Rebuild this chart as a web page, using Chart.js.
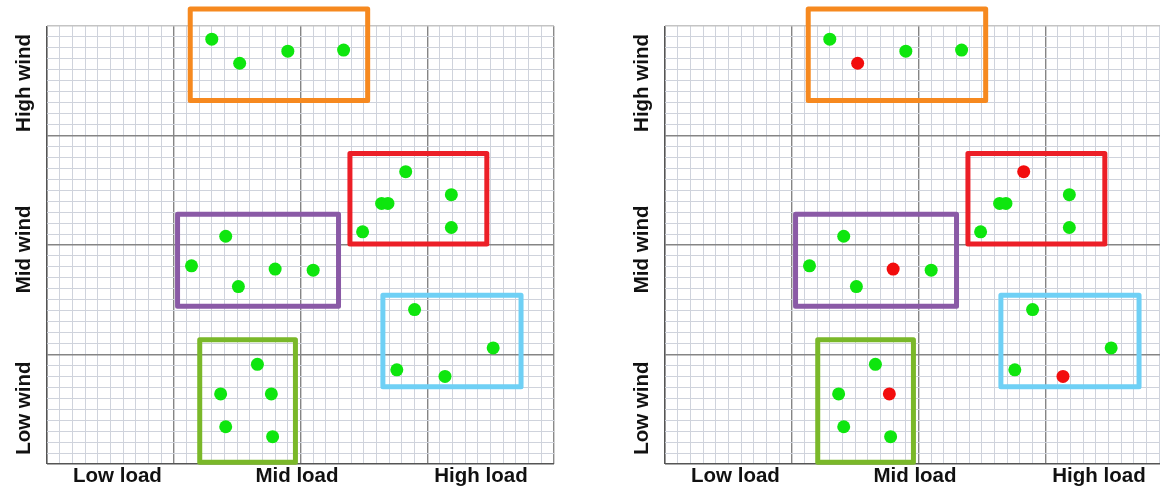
<!DOCTYPE html>
<html>
<head>
<meta charset="utf-8">
<script src="https://cdn.jsdelivr.net/npm/chart.js@4.4.1/dist/chart.umd.min.js"></script>
<style>
  html, body { margin: 0; padding: 0; background: #ffffff; overflow: hidden; width: 1160px; height: 491px; }
  .panel { position: absolute; top: 0; width: 580px; height: 491px; }
  #wrapL { left: 0; }
  #wrapR { left: 618px; }
</style>
</head>
<body>
<div class="panel" id="wrapL"><canvas id="chartL" width="580" height="491"></canvas></div>
<div class="panel" id="wrapR"><canvas id="chartR" width="580" height="491"></canvas></div>
<script>
// ---- Axis labels (category positions in data units, grid is 0..40 both ways) ----
const loadLabels = ['Low load', 'Mid load', 'High load'];
const loadPos = [5.56, 19.72, 34.24];
const windLabels = ['High wind', 'Mid wind', 'Low wind'];
const windPos = [34.8, 19.6, 5.1];

// ---- Operating points per cluster (x = load, y = wind) ----
const orangeX = [13.0, 15.2, 19.0, 23.4];
const orangeY = [38.8, 36.6, 37.7, 37.8];
const redX = [28.3, 26.4, 26.9, 31.9, 31.9, 24.9];
const redY = [26.7, 23.8, 23.8, 24.6, 21.6, 21.2];
const purpleX = [14.1, 11.4, 15.1, 18.0, 21.0];
const purpleY = [20.8, 18.1, 16.2, 17.8, 17.7];
const greenX = [16.6, 13.7, 17.7, 14.1, 17.8];
const greenY = [9.1, 6.4, 6.4, 3.4, 2.5];
const cyanX = [29.0, 27.6, 31.4, 35.2];
const cyanY = [14.1, 8.6, 8.0, 10.6];

// ---- Points flagged (red) in the right-hand panel ----
const orangeFlag = [0, 1, 0, 0];
const redFlag = [1, 0, 0, 0, 0, 0];
const purpleFlag = [0, 0, 0, 1, 0];
const greenFlag = [0, 0, 1, 0, 0];
const cyanFlag = [0, 0, 1, 0];

// ---- Cluster boxes (data units) : orange, red, purple, green, cyan ----
const boxLeft   = [11.3, 23.9, 10.3, 12.05, 26.5];
const boxRight  = [25.3, 34.7, 23.0, 19.6, 37.4];
const boxBottom = [33.2, 20.1, 14.4, 0.15, 7.05];
const boxTop    = [41.55, 28.35, 22.8, 11.35, 15.4];

const gridMin = 0, gridMax = 40, gridStep = 1, majorEvery = 10;

const boxColors = ['#f6891f', '#ec1f27', '#8a5aa6', '#7ab829', '#6fd0f5'];
const GREEN = '#0ee60e';
const RED = '#f20d0d';
const FONT = "'Liberation Sans', Arial, sans-serif";

function buildPoints(useFlags) {
  const xs = [].concat(orangeX, redX, purpleX, greenX, cyanX);
  const ys = [].concat(orangeY, redY, purpleY, greenY, cyanY);
  const fl = [].concat(orangeFlag, redFlag, purpleFlag, greenFlag, cyanFlag);
  const data = xs.map((x, i) => ({ x: x, y: ys[i] }));
  const colors = fl.map(f => (useFlags && f) ? RED : GREEN);
  return { data, colors };
}

function boxDatasets() {
  return boxLeft.map((l, i) => ({
    type: 'scatter',
    data: [
      { x: l, y: boxBottom[i] }, { x: boxRight[i], y: boxBottom[i] },
      { x: boxRight[i], y: boxTop[i] }, { x: l, y: boxTop[i] },
      { x: l, y: boxBottom[i] }
    ],
    showLine: true,
    borderColor: boxColors[i],
    borderWidth: 5,
    borderJoinStyle: 'round',
    borderCapStyle: 'round',
    pointRadius: 0,
    pointHoverRadius: 0,
    fill: false,
    clip: false,
    order: 2
  }));
}

function gridValues() {
  const v = [];
  for (let t = gridMin; t <= gridMax; t += gridStep) v.push({ value: t });
  return v;
}

function gridColor(ctx, edgeLow, edgeHigh) {
  const v = ctx.tick ? ctx.tick.value : 0;
  if (v === gridMin) return edgeLow;
  if (v === gridMax) return edgeHigh;
  return (v % majorEvery === 0) ? '#858585' : '#cfd3dc';
}
function gridWidth(ctx) {
  const v = ctx.tick ? ctx.tick.value : 0;
  if (v === gridMin) return 1.6;
  return (v % majorEvery === 0) ? 1.4 : 1;
}

const windLabelPlugin = {
  id: 'windLabels',
  afterDraw(chart) {
    const ys = chart.scales.y;
    const c = chart.ctx;
    c.save();
    c.font = "bold 20.5px " + FONT;
    c.fillStyle = '#111111';
    c.textAlign = 'center';
    c.textBaseline = 'middle';
    windLabels.forEach((lab, i) => {
      const py = ys.getPixelForValue(windPos[i]);
      c.save();
      c.translate(chart.chartArea.left - 23, py);
      c.rotate(-Math.PI / 2);
      c.fillText(lab, 0, 0);
      c.restore();
    });
    c.restore();
  }
};

function makeChart(id, useFlags) {
  const pts = buildPoints(useFlags);
  return new Chart(document.getElementById(id), {
    type: 'scatter',
    data: {
      datasets: [{
        data: pts.data,
        pointBackgroundColor: pts.colors,
        pointBorderColor: pts.colors,
        pointBorderWidth: 0,
        pointRadius: 6.5,
        pointHoverRadius: 6.5,
        clip: false,
        order: 1
      }].concat(boxDatasets())
    },
    options: {
      responsive: false,
      animation: false,
      events: [],
      layout: { padding: { left: 47, top: 26, right: 26, bottom: 2.4 } },
      plugins: { legend: { display: false }, tooltip: { enabled: false } },
      scales: {
        x: {
          type: 'linear', min: gridMin, max: gridMax, position: 'bottom',
          afterBuildTicks: s => { s.ticks = gridValues(); },
          ticks: { display: false },
          border: { display: false },
          grid: {
            drawTicks: false,
            color: ctx => gridColor(ctx, '#555555', '#8a8a8a'),
            lineWidth: gridWidth
          }
        },
        xl: {
          type: 'linear', min: gridMin, max: gridMax, position: 'bottom',
          afterBuildTicks: s => { s.ticks = loadPos.map(v => ({ value: v })); },
          border: { display: false },
          grid: { display: false, drawTicks: false },
          ticks: {
            autoSkip: false, maxRotation: 0, padding: 0,
            color: '#111111',
            font: { family: FONT, size: 20.5, weight: 'bold' },
            callback: (val, i) => loadLabels[i]
          }
        },
        y: {
          type: 'linear', min: gridMin, max: gridMax, position: 'left',
          afterBuildTicks: s => { s.ticks = gridValues(); },
          ticks: { display: false },
          border: { display: false },
          grid: {
            drawTicks: false,
            color: ctx => gridColor(ctx, '#555555', '#c4c4c4'),
            lineWidth: gridWidth
          }
        }
      }
    },
    plugins: [windLabelPlugin]
  });
}

makeChart('chartL', false);
makeChart('chartR', true);
</script>
</body>
</html>
